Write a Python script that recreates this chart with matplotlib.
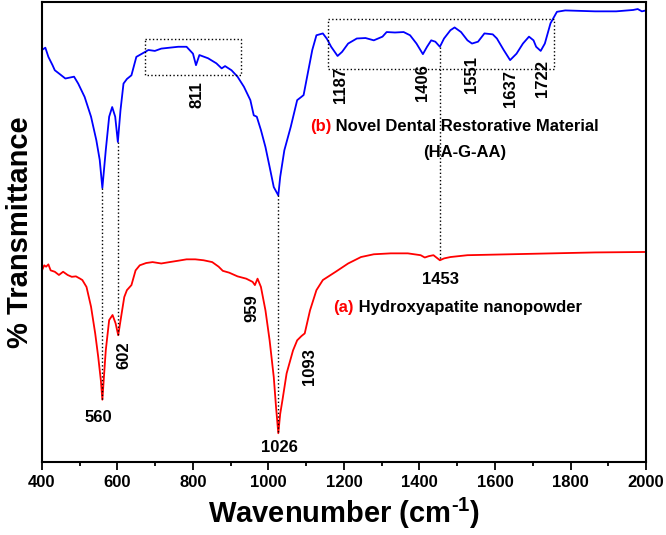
import numpy as np
import matplotlib.pyplot as plt

plt.rcParams['font.family'] = ['Liberation Sans', 'DejaVu Sans']
plt.rcParams['font.weight'] = 'bold'
plt.rcParams['mathtext.fontset'] = 'custom'
plt.rcParams['mathtext.rm'] = 'Liberation Sans:bold'
plt.rcParams['mathtext.bf'] = 'Liberation Sans:bold'
plt.rcParams['mathtext.default'] = 'bf'

# (b) HA-G-AA spectrum, wavenumber / transmittance (arbitrary offset units)
wn_b = [400, 409, 417, 428, 434, 445, 462, 485, 496, 513, 530, 544, 553, 560, 569, 578,
        586, 594, 601, 608, 616, 625, 637, 650, 665, 682, 699, 716, 738, 761, 783, 800,
        808, 817, 840, 862, 876, 885, 902, 918, 935, 952, 961, 969, 980, 992, 1003, 1014,
        1026, 1031, 1042, 1059, 1076, 1087, 1093, 1104, 1116, 1127, 1144, 1155, 1166, 1183,
        1195, 1211, 1234, 1257, 1279, 1302, 1313, 1335, 1358, 1375, 1392, 1409, 1420, 1431,
        1442, 1454, 1465, 1482, 1493, 1510, 1527, 1539, 1555, 1572, 1594, 1605, 1623, 1640,
        1657, 1674, 1690, 1702, 1709, 1721, 1732, 1747, 1764, 1786, 1865, 1921, 1966, 1978,
        1989, 2000]
t_b = [89.6, 90.1, 88.1, 86.3, 85.2, 84.5, 83.4, 83.8, 82.3, 79.4, 75.1, 70.0, 65.7, 59.6,
       67.8, 75.1, 77.2, 75.1, 69.6, 76.5, 82.3, 83.3, 84.1, 88.1, 88.8, 89.6, 89.4, 89.9,
       90.1, 90.3, 90.3, 88.8, 86.3, 88.5, 87.8, 86.7, 85.6, 86.1, 85.2, 83.8, 81.6, 78.7,
       75.4, 75.1, 72.2, 68.5, 64.2, 59.8, 58.0, 62.0, 67.8, 72.9, 78.7, 79.4, 79.8, 84.5,
       89.6, 92.8, 93.2, 92.0, 90.3, 88.3, 89.2, 91.0, 92.1, 92.2, 91.7, 92.5, 93.5, 93.4,
       93.5, 92.8, 91.0, 88.7, 90.3, 91.7, 91.4, 90.3, 92.1, 93.9, 94.5, 93.5, 91.7, 91.0,
       91.4, 93.2, 93.0, 92.1, 89.6, 87.4, 88.8, 91.0, 92.5, 91.7, 90.3, 89.4, 91.0, 95.4,
       97.9, 98.2, 98.0, 98.0, 98.3, 98.5, 98.0, 98.2]

# (a) hydroxyapatite nanopowder
wn_a = [400, 406, 411, 417, 423, 434, 445, 456, 468, 479, 490, 501, 507, 518, 530, 541,
        549, 556, 560, 569, 578, 587, 595, 602, 611, 618, 625, 637, 648, 659, 676, 693,
        716, 738, 761, 783, 806, 828, 851, 868, 879, 896, 918, 941, 958, 964, 971, 980,
        992, 1003, 1014, 1020, 1026, 1031, 1037, 1048, 1065, 1076, 1087, 1096, 1110, 1127,
        1144, 1178, 1211, 1245, 1279, 1324, 1369, 1403, 1414, 1425, 1437, 1454, 1465, 1482,
        1527, 1640, 1752, 1865, 2000]
t_a = [41.7, 42.8, 42.5, 43.0, 41.7, 41.4, 40.7, 41.4, 40.7, 40.3, 40.4, 39.9, 39.6, 38.1,
       33.8, 28.0, 22.9, 17.8, 13.6, 24.3, 30.9, 32.0, 30.2, 27.6, 32.3, 35.9, 37.4, 38.5,
       41.7, 42.8, 43.3, 43.5, 43.2, 43.5, 43.8, 44.1, 44.1, 43.9, 43.5, 42.5, 41.6, 41.2,
       40.4, 39.9, 39.2, 38.5, 39.9, 38.1, 33.0, 26.5, 18.5, 12.0, 6.3, 10.5, 13.5, 19.3,
       24.3, 26.5, 27.4, 28.0, 33.0, 37.4, 39.6, 41.4, 43.2, 44.6, 45.2, 45.4, 45.4, 45.0,
       44.5, 44.8, 45.0, 43.9, 44.3, 44.6, 45.0, 45.2, 45.4, 45.6, 45.7]

# peak labels: text, x, y, rotation
peak_txt = ['811', '1187', '1406', '1551', '1637', '1722', '602', '959', '1093', '560', '1026', '1453']
peak_x = [811, 1190, 1409, 1539, 1640, 1727, 617, 956, 1108, 549, 1029, 1456]
peak_y = [80.0, 82.0, 82.6, 84.3, 81.3, 83.3, 23.3, 33.5, 20.7, 9.8, 3.3, 39.8]
peak_rot = [90, 90, 90, 90, 90, 90, 90, 90, 90, 0, 0, 0]

# dotted guide lines: x, y from, y to
guide_x = [560, 602, 1026, 1453]
guide_y0 = [59.6, 69.6, 58.0, 90.3]
guide_y1 = [13.6, 27.6, 6.3, 43.9]

fig = plt.figure(figsize=(6.66, 5.35), dpi=100)
ax = fig.add_axes([0.063, 0.136, 0.907, 0.86])

ax.plot(wn_b, t_b, color='#0000FF', lw=1.3)
ax.plot(wn_a, t_a, color='#FF0000', lw=1.3)

for gx, g0, g1 in zip(guide_x, guide_y0, guide_y1):
    ax.plot([gx, gx], [g0, g1], ls=':', color='black', lw=1)

# dotted boxes
ax.plot([673, 927, 927, 673, 673], [92.0, 92.0, 84.1, 84.1, 92.0], ls=':', color='black', lw=1)
ax.plot([1157, 1757, 1757, 1157, 1157], [96.3, 96.3, 85.4, 85.4, 96.3], ls=':', color='black', lw=1)

for s, px, py, r in zip(peak_txt, peak_x, peak_y, peak_rot):
    ax.text(px, py, s, rotation=r, ha='center', va='center', fontsize=12, fontweight='bold')

tb = ax.text(1110, 73, '(b)', color='red', fontsize=12, fontweight='bold', va='center')
ax.annotate(' Novel Dental Restorative Material', xy=(1, 0.5), xycoords=tb,
            va='center', fontsize=12, fontweight='bold')
ax.text(1521, 67.4, '(HA-G-AA)', ha='center', va='center', fontsize=12, fontweight='bold')
ta = ax.text(1172, 33.7, '(a)', color='red', fontsize=12, fontweight='bold', va='center')
ax.annotate(' Hydroxyapatite nanopowder', xy=(1, 0.5), xycoords=ta,
            va='center', fontsize=12, fontweight='bold')

ax.set_xlim(400, 2000)
ax.set_ylim(0, 100)
ax.set_xticks(np.arange(400, 2001, 200))
ax.set_xticks(np.arange(500, 2000, 200), minor=True)
ax.set_yticks([])
ax.tick_params(axis='x', which='major', direction='out', length=6, width=1.3, labelsize=12)
ax.tick_params(axis='x', which='minor', direction='out', length=3, width=1.3)
for sp in ax.spines.values():
    sp.set_linewidth(1.5)
for lab in ax.get_xticklabels():
    lab.set_fontweight('bold')

ax.set_xlabel(r'Wavenumber (cm$^{\text{-1}}$)', fontsize=21, fontweight='bold', labelpad=4)
ax.set_ylabel('% Transmittance', fontsize=21, fontweight='bold', labelpad=6)

fig.savefig('out.png', dpi=100)
